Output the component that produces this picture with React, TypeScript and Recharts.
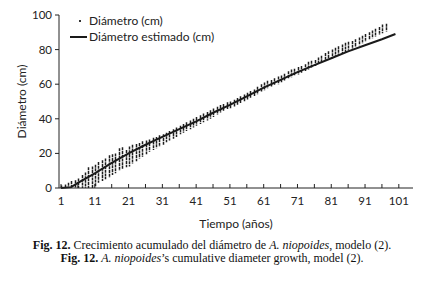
import React from 'react';
import { ComposedChart, Bar, Line, XAxis, YAxis, Label } from 'recharts';

const diamLow = [
  0, 0, 0, 0, 0, 0, 0, 0, 0, 0,
  1, 3, 4, 5, 6, 7.5, 8.5, 10, 11, 12,
  12.5, 14, 15.5, 17, 18, 19.5, 21, 22, 23, 24,
  25, 26.5, 27.5, 28.5, 29.5, 31, 32, 33, 34, 35,
  36, 37, 38, 39, 40, 41, 42.5, 43.5, 44.5, 45.5,
  46, 47, 48, 49, 50, 51, 52, 53, 54, 55.5,
  56.5, 57.5, 58.5, 59.5, 60, 61, 62, 63, 64, 65,
  65.5, 66.5, 67.5, 68.5, 69.5, 70.5, 71.5, 72.5, 73.5, 74,
  75, 76, 77, 78, 78.5, 79.5, 80.5, 81.5, 82.5, 83.5,
  84.5, 85.5, 86.5, 87.5, 88.5, 89.5, 90.5,
];
const diamHigh = [
  1.5, 2, 3, 4, 4.5, 5.5, 7.5, 9, 12, 12.5,
  13.5, 15, 16, 17, 19, 19.5, 20, 23, 23.5, 22,
  24, 25, 25.5, 26, 27, 27.5, 28, 29, 29.5, 30.5,
  31, 32, 33, 34, 35, 36, 37, 38, 39, 40,
  41, 42, 43, 44, 45, 46, 47, 48, 48.5, 49.5,
  50, 51, 52, 53, 54, 55, 56, 57, 58.5, 60,
  61, 62, 62.5, 63.5, 64.5, 65, 66, 67.5, 68.5, 69,
  70, 70.5, 71.5, 73, 73.5, 74, 75.5, 76.5, 78, 79,
  80, 81, 82, 83, 84, 84.5, 85, 86, 87, 88,
  89, 90, 91, 92, 93, 94.5, 95,
];

// estimated diameter (model 2)
const estYears = [1, 4, 6, 11, 16, 21, 26, 31, 36, 41, 46, 51, 56, 61, 66, 71, 76, 81, 86, 91, 96, 100];
const estDiam = [0, 0.5, 3, 8.5, 14.5, 20, 25, 29.5, 34, 38.5, 43.5, 48, 53, 58, 62.5, 67, 71, 75, 79, 82.5, 86, 89];

const xTicks = [1, 6, 11, 16, 21, 26, 31, 36, 41, 46, 51, 56, 61, 66, 71, 76, 81, 86, 91, 96, 101];
const yTicks = [0, 20, 40, 60, 80, 100];

const obsData = diamLow.map((lo, i) => ({ year: i + 1, range: [lo, diamHigh[i]] }));
const estData = estYears.map((year, i) => ({ year, est: estDiam[i] }));

const font = 'Lato, "Open Sans", sans-serif';

const Column = (props: any) => {
  const { x, y, width, height } = props;
  const cx = Math.round(x + width / 2) + 0.5;
  return (
    <line x1={cx} x2={cx} y1={y} y2={y + Math.max(height, 1.2)} stroke="#1e1e1e" strokeWidth={1.5} strokeDasharray="3 0.7" />
  );
};

const XTick = (props: any) => {
  const { x, y, payload } = props;
  const v = payload.value;
  const labelled = (v - 1) % 10 === 0;
  return (
    <g>
      <line x1={x} x2={x} y1={y - 4} y2={y} stroke="#222" strokeWidth={1} />
      {labelled && (
        <text x={x} y={y + 17} textAnchor="middle" fontSize={11.5} fill="#222" fontFamily={font}>{v}</text>
      )}
    </g>
  );
};

export default function App() {
  return (
    <div style={{ position: 'absolute', left: 0, top: 0, width: 424, height: 286, background: '#fff' }}>
      <ComposedChart width={424} height={232} data={obsData} margin={{ top: 15, right: 11, left: 14, bottom: 14 }}>
        <XAxis
          dataKey="year"
          type="number"
          domain={[0.4, 105.2]}
          ticks={xTicks}
          interval={0}
          tickLine={false}
          tickSize={0}
          tickMargin={0}
          tick={<XTick />}
          stroke="#222"
          height={30}
          allowDataOverflow
        >
          <Label value="Tiempo (años)" position="insideBottom" offset={-10} fontSize={12} fill="#222" fontFamily={font} />
        </XAxis>
        <YAxis
          type="number"
          domain={[0, 100]}
          ticks={yTicks}
          interval={0}
          tickSize={4}
          tickMargin={3}
          stroke="#222"
          width={45}
          tick={{ fill: '#222', fontSize: 11.5, fontFamily: font }}
        >
          <Label value="Diámetro (cm)" angle={-90} position="center" dx={-15} fontSize={12} fill="#222" fontFamily={font} />
        </YAxis>
        <Bar dataKey="range" barSize={2} shape={<Column />} isAnimationActive={false} />
        <Line data={estData} dataKey="est" type="linear" stroke="#1a1a1a" strokeWidth={2} dot={false} isAnimationActive={false} />
      </ComposedChart>
      <div style={{ position: 'absolute', left: 70, top: 13, fontFamily: font, fontSize: 12, color: '#222', lineHeight: '16px' }}>
        <div style={{ display: 'flex', alignItems: 'center' }}>
          <span style={{ width: 18, height: 16, display: 'inline-block', position: 'relative' }}>
            <span style={{ position: 'absolute', left: 9, top: 7, width: 2, height: 2, background: '#333' }} />
          </span>
          <span style={{ marginLeft: 1 }}>Diámetro (cm)</span>
        </div>
        <div style={{ display: 'flex', alignItems: 'center' }}>
          <span style={{ width: 17, height: 2, background: '#1a1a1a', display: 'inline-block' }} />
          <span style={{ marginLeft: 2 }}>Diámetro estimado (cm)</span>
        </div>
      </div>
      <div style={{ position: 'absolute', left: 0, top: 239, width: 424, textAlign: 'center', fontFamily: '"Liberation Serif", "Times New Roman", serif', fontSize: 12, color: '#111', lineHeight: '13px' }}>
        <div><b>Fig. 12.</b> Crecimiento acumulado del diámetro de <i>A. niopoides</i>, modelo (2).</div>
        <div><b>Fig. 12.</b> <i>A. niopoides</i>’s cumulative diameter growth, model (2).</div>
      </div>
    </div>
  );
}
